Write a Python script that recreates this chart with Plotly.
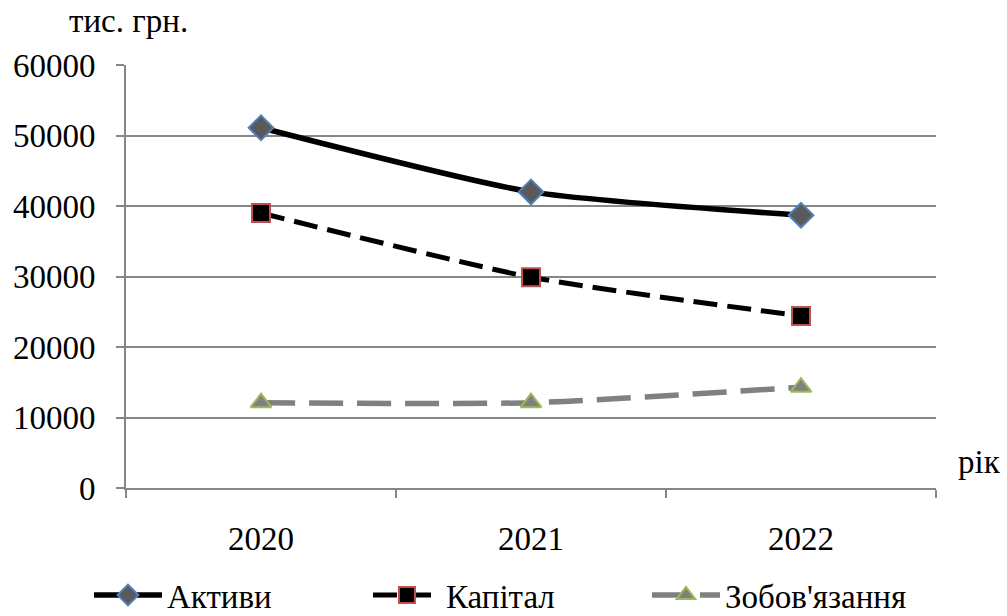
import plotly.graph_objects as go

years = ["2020", "2021", "2022"]
aktyvy = [51100, 42000, 38700]
kapital = [39000, 29900, 24400]
zobovyazannya = [12100, 12100, 14300]
y_ticks = [0, 10000, 20000, 30000, 40000, 50000, 60000]

FONT = "Liberation Serif"
AXIS_GRAY = "#868686"
FS = 33

fig = go.Figure()

fig.add_trace(go.Scatter(
    x=years, y=aktyvy, name="Активи", mode="lines+markers",
    line=dict(color="black", width=5.5, shape="spline", smoothing=0.6),
    marker=dict(symbol="diamond", size=19, color="#5a5a5a",
                line=dict(color="#4f81bd", width=2)),
))
fig.add_trace(go.Scatter(
    x=years, y=kapital, name="Капітал", mode="lines+markers",
    line=dict(color="black", width=5, dash="24px,10px", shape="spline", smoothing=0.6),
    marker=dict(symbol="square", size=18, color="black",
                line=dict(color="#c0504d", width=2)),
))
fig.add_trace(go.Scatter(
    x=years, y=zobovyazannya, name="Зобов'язання", mode="lines+markers",
    line=dict(color="#808080", width=5.5, dash="34px,14px", shape="spline", smoothing=0.6),
    marker=dict(symbol="triangle-up", size=18, color="#808080",
                line=dict(color="#9bbb59", width=2)),
))

fig.update_layout(
    width=1007, height=616,
    margin=dict(l=126, r=71, t=65, b=128, autoexpand=False),
    paper_bgcolor="white", plot_bgcolor="white",
    font=dict(family=FONT, size=FS, color="black"),
    showlegend=True,
    legend=dict(orientation="h", x=-0.0457, xanchor="left", y=-0.253, yanchor="middle",
                font=dict(family=FONT, size=FS, color="black"), entrywidth=196,
                entrywidthmode="pixels", itemwidth=68, tracegroupgap=0),
    xaxis=dict(
        type="category", range=[-0.5, 2.5], tickson="boundaries",
        showline=True, linecolor=AXIS_GRAY, linewidth=2,
        ticks="outside", ticklen=8, tickcolor=AXIS_GRAY, tickwidth=1.5,
        showgrid=False, tickfont=dict(family=FONT, size=FS), ticklabelstandoff=20,
    ),
    yaxis=dict(
        range=[0, 60000], tickvals=y_ticks, ticktext=[str(v) for v in y_ticks],
        showline=True, linecolor=AXIS_GRAY, linewidth=2,
        ticks="outside", ticklen=8, tickcolor=AXIS_GRAY, tickwidth=1.5,
        showgrid=True, gridcolor=AXIS_GRAY, gridwidth=1.5, zeroline=False,
        tickfont=dict(family=FONT, size=FS), ticklabelstandoff=14,
    ),
    annotations=[
        dict(text="тис. грн.", xref="paper", yref="paper", x=-0.073, y=1.0,
             yshift=44, xanchor="left", yanchor="middle", showarrow=False,
             font=dict(family=FONT, size=FS)),
        dict(text="рік", xref="paper", yref="paper", x=1.0, y=0.0,
             xshift=20, yshift=26, xanchor="left", yanchor="middle", showarrow=False,
             font=dict(family=FONT, size=FS)),
    ],
)

fig.write_html("out.html")
